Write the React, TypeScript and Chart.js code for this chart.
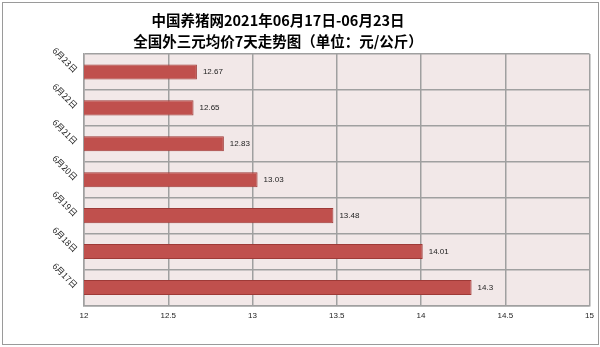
import React, { useEffect, useRef } from "react";
import { Chart, registerables } from "chart.js";

Chart.register(...registerables);

const titleLines = ["中国养猪网2021年06月17日-06月23日", "全国外三元均价7天走势图（单位：元/公斤）"];
const categories = ["6月23日", "6月22日", "6月21日", "6月20日", "6月19日", "6月18日", "6月17日"];
const prices = [12.67, 12.65, 12.83, 13.03, 13.48, 14.01, 14.3];
const xMin = 12;
const xMax = 15;
const xStep = 0.5;

const plotBg = {
  id: "plotBg",
  beforeDraw(chart: any) {
    const { ctx, chartArea } = chart;
    ctx.save();
    ctx.fillStyle = "#F2E8E8";
    ctx.fillRect(chartArea.left, chartArea.top, chartArea.right - chartArea.left, chartArea.bottom - chartArea.top);
    ctx.restore();
  },
};

const titlePlugin = {
  id: "twoLineTitle",
  afterDraw(chart: any) {
    const { ctx } = chart;
    ctx.save();
    ctx.fillStyle = "#000";
    ctx.font = "bold 14.5px 'Noto Sans CJK SC', sans-serif";
    ctx.textAlign = "center";
    ctx.textBaseline = "middle";
    const cx = 278;
    titleLines.forEach((t, i) => ctx.fillText(t, cx, 20 + i * 21));
    ctx.restore();
  },
};

const yLabels = {
  id: "yLabels",
  afterDraw(chart: any) {
    const { ctx, chartArea } = chart;
    const y = chart.scales.y;
    ctx.save();
    ctx.fillStyle = "#222";
    ctx.font = "8.5px 'Noto Sans CJK SC', sans-serif";
    ctx.textAlign = "right";
    ctx.textBaseline = "middle";
    categories.forEach((c, i) => {
      const py = y.getPixelForValue(i);
      ctx.save();
      ctx.translate(chartArea.left - 8, py - 1);
      ctx.rotate(Math.PI / 4);
      ctx.fillText(c, 0, 0);
      ctx.restore();
    });
    ctx.restore();
  },
};

const valueLabels = {
  id: "valueLabels",
  afterDatasetsDraw(chart: any) {
    const { ctx } = chart;
    const meta = chart.getDatasetMeta(0);
    ctx.save();
    ctx.fillStyle = "#222";
    ctx.font = "8px 'Liberation Sans', Arial, sans-serif";
    ctx.textAlign = "left";
    ctx.textBaseline = "middle";
    meta.data.forEach((bar: any, i: number) => {
      ctx.fillText(String(prices[i]), bar.x + 6, bar.y);
    });
    ctx.restore();
  },
};

export default function App() {
  const ref = useRef<HTMLCanvasElement>(null);
  useEffect(() => {
    if (!ref.current) return;
    const chart = new Chart(ref.current, {
      type: "bar",
      data: {
        labels: categories,
        datasets: [
          {
            data: prices,
            backgroundColor: "#C0504D",
            borderColor: "#9E3A37",
            borderWidth: 1,
            borderSkipped: false,
            barPercentage: 0.42,
            categoryPercentage: 1,
          },
        ],
      },
      options: {
        indexAxis: "y",
        animation: false,
        responsive: false,
        maintainAspectRatio: false,
        layout: { padding: { left: 84, top: 54, right: 0, bottom: 20 } },
        plugins: { legend: { display: false }, title: { display: false }, tooltip: { enabled: false } },
        scales: {
          x: {
            min: xMin,
            max: xMax,
            ticks: {
              stepSize: xStep,
              color: "#222",
              font: { size: 8, family: "'Liberation Sans', Arial, sans-serif" },
              padding: 6,
              maxRotation: 0,
              callback: (v: any) => String(Number(v)),
            },
            grid: { color: "#A0A0A0", lineWidth: 1.5, drawTicks: false },
            border: { color: "#A0A0A0", width: 1.5 },
          },
          y: {
            ticks: { display: false },
            grid: { color: "#A0A0A0", lineWidth: 1.5, drawTicks: false, offset: true },
            border: { color: "#A0A0A0", width: 1.5 },
          },
        },
      },
      plugins: [plotBg, titlePlugin, yLabels, valueLabels],
    });
    return () => chart.destroy();
  }, []);
  return (
    <div style={{ position: "fixed", left: 0, top: 0, width: 600, height: 347, background: "#fff" }}>
      <canvas ref={ref} width={600} height={347} style={{ position: "absolute", left: 0, top: 0 }} />
      <div
        style={{
          position: "absolute",
          left: 2,
          top: 2,
          width: 595,
          height: 341,
          border: "1px solid #9A9A9A",
          pointerEvents: "none",
        }}
      />
    </div>
  );
}
